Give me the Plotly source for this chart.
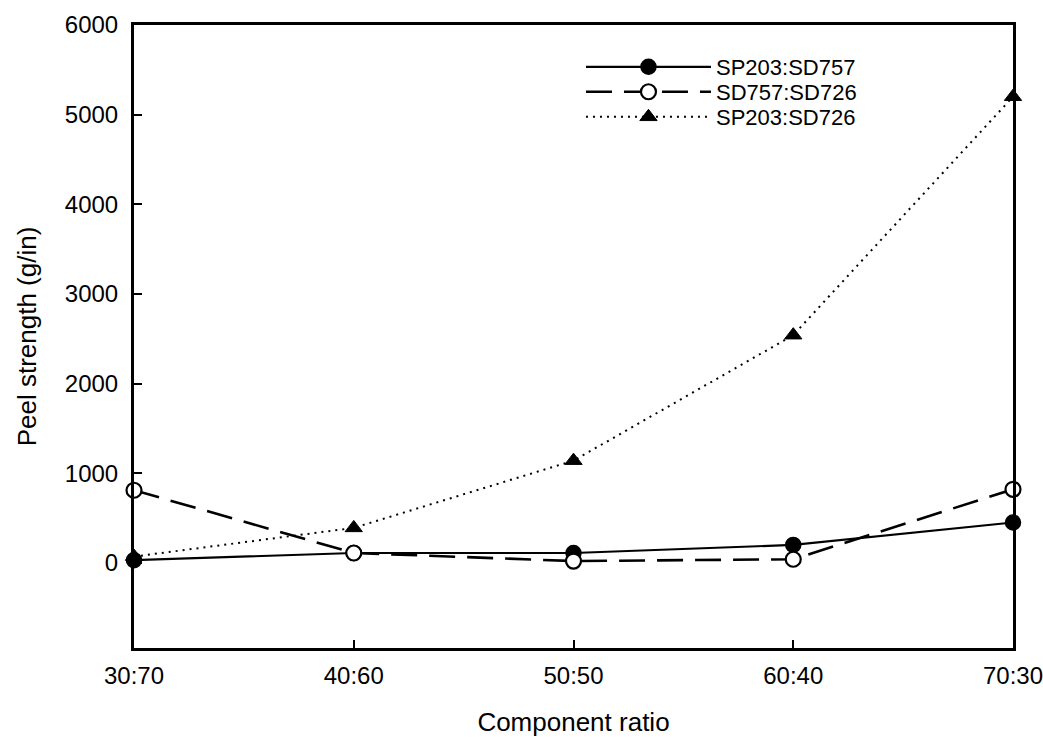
import plotly.graph_objects as go

categories = ["30:70", "40:60", "50:50", "60:40", "70:30"]
sp203_sd757 = [30, 110, 110, 200, 450]
sd757_sd726 = [810, 110, 20, 40, 820]
sp203_sd726 = [70, 390, 1140, 2540, 5200]

x = list(range(len(categories)))
font = "Liberation Sans, Arial, sans-serif"

fig = go.Figure()
fig.add_trace(go.Scatter(
    x=x, y=sp203_sd757, name="SP203:SD757", mode="lines+markers", legend="legend",
    line=dict(color="black", width=2.2, dash="solid"),
    marker=dict(symbol="circle", size=15, color="black", line=dict(color="black", width=1.5)),
    cliponaxis=False))
fig.add_trace(go.Scatter(
    x=x, y=sd757_sd726, name="SD757:SD726", mode="lines+markers", legend="legend2",
    line=dict(color="black", width=2.6, dash="26px,12px"),
    marker=dict(symbol="circle", size=15, color="white", line=dict(color="black", width=2.2)),
    cliponaxis=False))
fig.add_trace(go.Scatter(
    x=x, y=sp203_sd726, name="SP203:SD726", mode="lines+markers", legend="legend3",
    line=dict(color="black", width=2, dash="2px,5px"),
    marker=dict(symbol="triangle-up", size=15, color="black", line=dict(color="black", width=1)),
    cliponaxis=False))

leg_common = dict(x=0.5085, xanchor="left", yanchor="middle",
                  bgcolor="rgba(0,0,0,0)", font=dict(size=22, family=font),
                  itemwidth=125)

fig.update_layout(
    width=1043, height=737,
    margin=dict(l=134, r=30, t=25, b=89),
    paper_bgcolor="white", plot_bgcolor="white",
    font=dict(family=font, color="black", size=20),
    showlegend=True,
    legend=dict(y=0.9326, **leg_common),
    legend2=dict(y=0.8925, **leg_common),
    legend3=dict(y=0.8523, **leg_common),
)
fig.update_xaxes(
    range=[0, 4], tickmode="array", tickvals=x, ticktext=categories,
    showgrid=False, zeroline=False, showline=True, linecolor="black", linewidth=3,
    mirror=True, ticks="inside", ticklen=8, tickwidth=2, tickcolor="black",
    tickfont=dict(size=24, family=font), ticklabelstandoff=4, ticklabeloverflow="allow",
    automargin=False,
    title=dict(text="Component ratio", font=dict(size=26, family=font), standoff=37),
)
fig.update_yaxes(
    range=[-950, 6000], tickmode="array", tickvals=[0, 1000, 2000, 3000, 4000, 5000, 6000],
    showgrid=False, zeroline=False, showline=True, linecolor="black", linewidth=3,
    mirror=True, ticks="inside", ticklen=8, tickwidth=2, tickcolor="black",
    tickfont=dict(size=24, family=font), ticklabelstandoff=8,
    automargin=False,
    title=dict(text="Peel strength (g/in)", font=dict(size=26, family=font), standoff=21),
)

fig.write_html("out.html", config={"displayModeBar": False},
               post_script="document.body.style.margin='0';")
